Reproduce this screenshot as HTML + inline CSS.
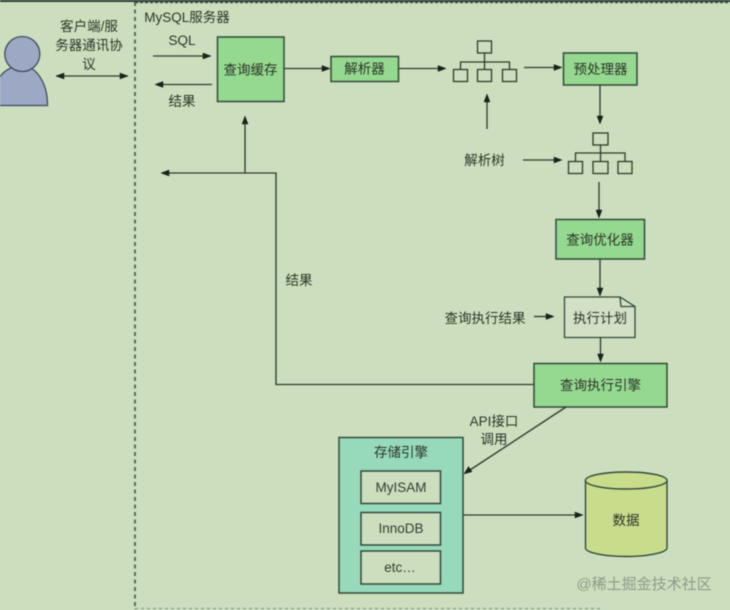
<!DOCTYPE html>
<html><head><meta charset="utf-8">
<style>
html,body{margin:0;padding:0;width:730px;height:610px;overflow:hidden;background:#cddebf}
svg{display:block;filter:blur(0.5px)}
text{font-family:"Liberation Sans","Noto Sans CJK SC",sans-serif;font-size:13.5px;fill:#2a3527;text-anchor:middle}
.b{stroke:#32493a;stroke-width:1.5}
.l{stroke:#2d3b2a;stroke-width:1.35;fill:none}
.h{fill:#18231a;stroke:#18231a;stroke-width:.5}
.t{fill:none;stroke:#2d3b2a;stroke-width:1.3}
</style></head><body>
<svg width="730" height="610" viewBox="0 0 730 610" xmlns="http://www.w3.org/2000/svg">
<rect width="730" height="610" fill="#cddebf"/>
<rect width="730" height="2" fill="#2b3b37"/>
<line x1="135" y1="2.5" x2="730" y2="2.5" stroke="#3f4f42" stroke-width="1.5" stroke-dasharray="3 2"/>
<line x1="135" y1="2" x2="135" y2="610" stroke="#4f634f" stroke-width="1.8" stroke-dasharray="4 3.5"/>
<line x1="135" y1="608.5" x2="600" y2="608.5" stroke="#8b9c85" stroke-width="1.2" stroke-dasharray="3 3"/>

<!-- person -->
<path d="M-8 105.5 C-8 80 4 66 22 66 C36 66 47.5 82 47.5 105.5 Z" fill="#9da9c4" stroke="#3f4a5c" stroke-width="1.3"/>
<circle cx="22.3" cy="54" r="17.5" fill="#9da9c4" stroke="#3f4a5c" stroke-width="1.3"/>

<!-- labels top-left -->
<text x="89" y="31">客户端/服</text>
<text x="89" y="50">务器通讯协</text>
<text x="89" y="69">议</text>
<text x="187" y="22">MySQL服务器</text>
<text x="182" y="45">SQL</text>
<text x="182" y="106">结果</text>

<!-- boxes -->
<rect x="217.5" y="37" width="66.5" height="64.5" fill="#95d88f" class="b"/>
<text x="250.5" y="74.5">查询缓存</text>
<rect x="331" y="56.5" width="67.5" height="25" fill="#95d88f" class="b"/>
<text x="364.5" y="73.5">解析器</text>
<rect x="563.5" y="53" width="73.5" height="32" fill="#95d88f" class="b"/>
<text x="600.5" y="74">预处理器</text>
<rect x="556" y="219.5" width="88.5" height="39.5" fill="#95d88f" class="b"/>
<text x="600" y="244.5">查询优化器</text>
<path d="M564.5 297 H620 L635 306.5 V337.5 H564.5 Z" fill="#d3e0c6" stroke="#32493a" stroke-width="1.3"/>
<path d="M620 297 L621 306.5 H635" fill="none" stroke="#32493a" stroke-width="1.3"/>
<text x="600" y="323">执行计划</text>
<rect x="534" y="363.5" width="133" height="43.5" fill="#95d88f" class="b"/>
<text x="600.5" y="390">查询执行引擎</text>

<!-- trees -->
<g class="t">
<rect x="477.5" y="41" width="14" height="12"/><rect x="453.5" y="69.5" width="14" height="12"/><rect x="477.5" y="69.5" width="14" height="12"/><rect x="502.5" y="69.5" width="14" height="12"/>
<path d="M484.5 53 V69.5 M460.5 69.5 V62 H509.5 V69.5"/>
<rect x="593" y="133" width="15" height="12"/><rect x="568.5" y="161.5" width="14" height="12"/><rect x="593" y="161.5" width="15" height="12"/><rect x="618" y="161.5" width="14" height="12"/>
<path d="M600.5 145 V161.5 M575.5 161.5 V153 H625 V161.5"/>
</g>

<!-- connectors -->
<g class="l">
<path d="M56 76 H128"/>
<path d="M153 56 H205"/>
<path d="M212 84.5 H161"/>
<path d="M284 68.5 H325"/>
<path d="M398 68.5 H441"/>
<path d="M524 67.5 H557"/>
<path d="M487 129 V101"/>
<path d="M600 85 V118"/>
<path d="M523 160 H557"/>
<path d="M599 182 V212"/>
<path d="M600 259 V290"/>
<path d="M534 316.5 H549"/>
<path d="M600.5 337 V356"/>
<path d="M245 173 V122"/>
<path d="M534 384.5 H276 V173 H167"/>
<path d="M566 407 L470 470"/>
<path d="M463 515 H577"/>
</g>
<g class="h">
<path d="M56 76 l8 -3 v6z"/><path d="M128 76 l-8 -3 v6z"/>
<path d="M211 56 l-8 -3 v6z"/>
<path d="M155 84.5 l8 -3 v6z"/>
<path d="M330 68.5 l-8 -3 v6z"/>
<path d="M446 68.5 l-8 -3 v6z"/>
<path d="M562 67.5 l-8 -3 v6z"/>
<path d="M487 94 l-3 8 h6z"/>
<path d="M600 124 l-3 -8 h6z"/>
<path d="M562 160 l-8 -3 v6z"/>
<path d="M599 218 l-3 -8 h6z"/>
<path d="M600 296 l-3 -8 h6z"/>
<path d="M554 316.5 l-8 -3 v6z"/>
<path d="M600.5 362 l-3 -8 h6z"/>
<path d="M245 116 l-3 8 h6z"/>
<path d="M161 173 l8 -3 v6z"/>
<path d="M464 474 l4.5 -7.5 l3.5 5.2z"/>
<path d="M583 515 l-8 -3 v6z"/>
</g>

<text x="484.5" y="165">解析树</text>
<text x="299" y="285">结果</text>
<text x="485" y="323">查询执行结果</text>
<text x="494" y="426">API接口</text>
<text x="494" y="444">调用</text>

<!-- storage -->
<rect x="339" y="437.5" width="124" height="155.5" fill="#97dabb" class="b"/>
<text x="401" y="457">存储引擎</text>
<rect x="361" y="471" width="79.5" height="32.5" fill="#cddebf" class="b"/>
<text x="401" y="492" style="fill:#333c33">MyISAM</text>
<rect x="361" y="512.5" width="79.5" height="32.5" fill="#cddebf" class="b"/>
<text x="401" y="533" style="fill:#333c33">InnoDB</text>
<rect x="361" y="551" width="79.5" height="33" fill="#cddebf" class="b"/>
<text x="400" y="572" style="fill:#333c33">etc…</text>

<!-- cylinder -->
<path d="M585.5 481 V548 C585.5 552.5 604 556.5 626 556.5 C648 556.5 667 552.5 667 548 V481 Z" fill="#c8dc8c" stroke="#32493a" stroke-width="1.4"/>
<ellipse cx="626.2" cy="480.5" rx="40.8" ry="8.5" fill="#c8dc8c" stroke="#32493a" stroke-width="1.4"/>
<text x="626" y="525">数据</text>

<text x="644" y="589" style="font-size:15px;fill:#8d9a8a">@稀土掘金技术社区</text>
</svg>
</body></html>
